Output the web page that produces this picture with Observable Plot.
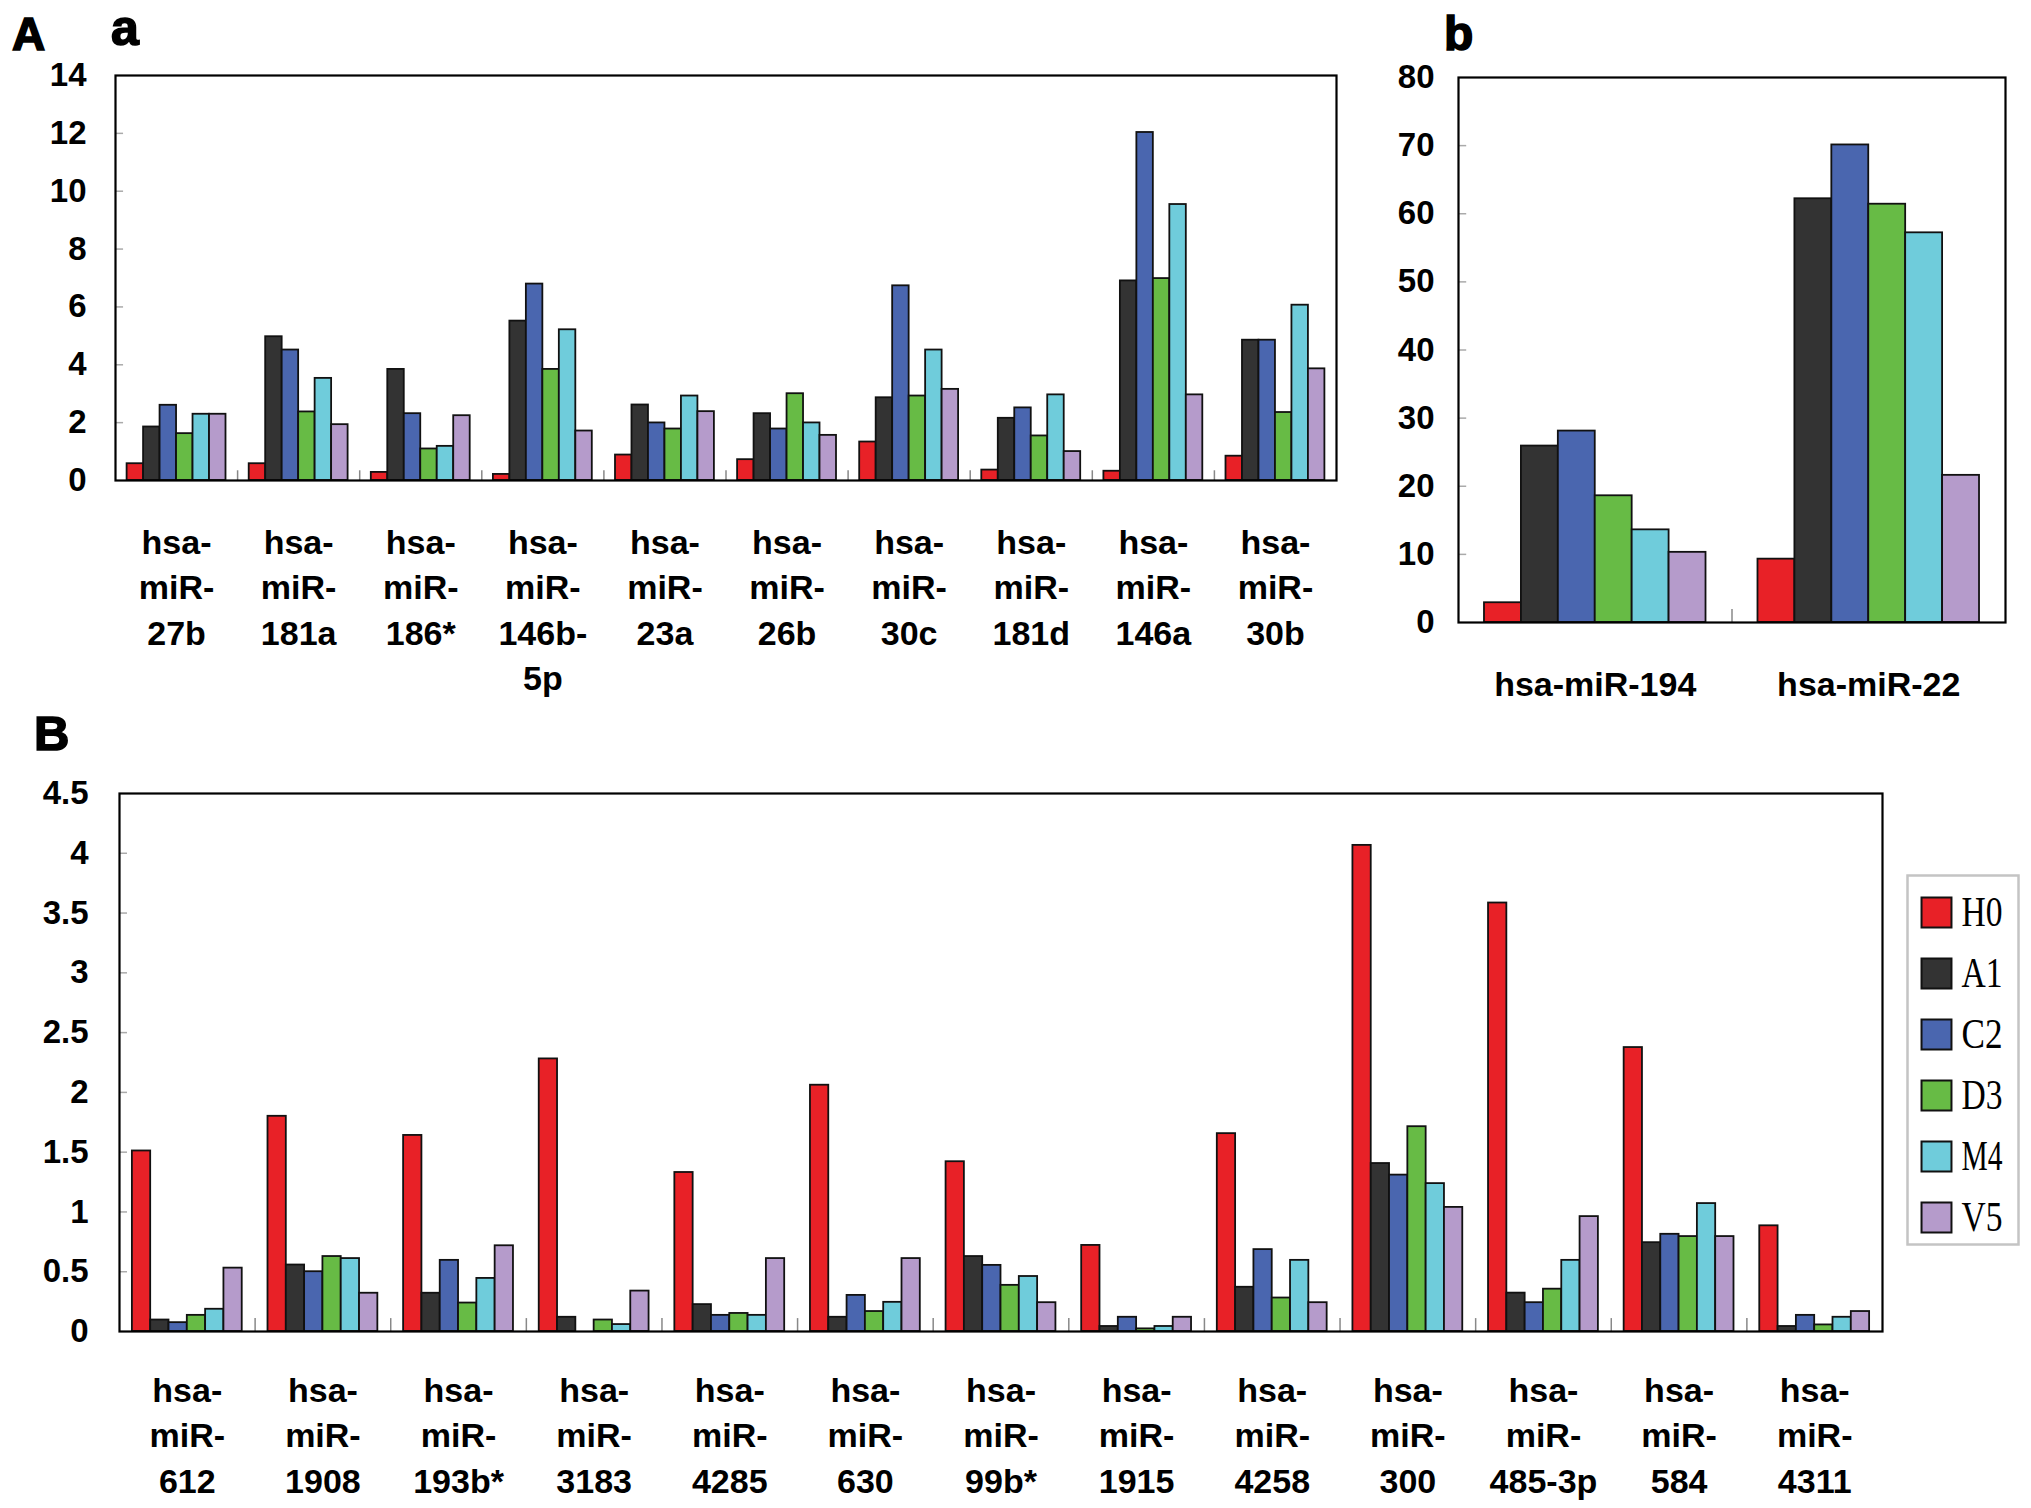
<!DOCTYPE html>
<html>
<head>
<meta charset="utf-8">
<script src="https://cdn.jsdelivr.net/npm/d3@7"></script>
<script src="https://cdn.jsdelivr.net/npm/@observablehq/plot@0.6"></script>
<style>
  body { margin: 0; background: #fff; }
  #root { position: relative; width: 2031px; height: 1508px; background: #fff; overflow: hidden; }
  .panel { position: absolute; }
  .panel svg { overflow: visible; }
  .letter { position: absolute; font-family: "Liberation Sans", Arial, sans-serif; font-weight: bold;
            color: #000; -webkit-text-stroke: 1.6px #000; line-height: 1; white-space: nowrap; }
</style>
</head>
<body>
<div id="root">
  <div class="letter" style="left:12px;top:11px;font-size:46px;">A</div>
  <div class="letter" style="left:111px;top:3px;font-size:50px;">a</div>
  <div class="letter" style="left:1444px;top:10px;font-size:48px;">b</div>
  <div class="letter" style="left:34px;top:709px;font-size:49px;">B</div>
  <div class="panel" id="pa" style="left:0;top:0;"></div>
  <div class="panel" id="pb" style="left:1360px;top:0;"></div>
  <div class="panel" id="pB" style="left:0;top:700px;"></div>
  <div class="panel" id="leg" style="left:1905px;top:873px;"></div>
</div>
<script>
// ---------- data ----------
const series = ["H0", "A1", "C2", "D3", "M4", "V5"];
const colors = ["#E82127", "#333333", "#4A66AF", "#67BB45", "#6FCCDB", "#B59BCB"];

// Panel A-a
const catsA = ["27b", "181a", "186*", "146b-5p", "23a", "26b", "30c", "181d", "146a", "30b"];
const labelsA = ["hsa-\nmiR-\n27b", "hsa-\nmiR-\n181a", "hsa-\nmiR-\n186*", "hsa-\nmiR-\n146b-\n5p",
  "hsa-\nmiR-\n23a", "hsa-\nmiR-\n26b", "hsa-\nmiR-\n30c", "hsa-\nmiR-\n181d", "hsa-\nmiR-\n146a", "hsa-\nmiR-\n30b"];
const A_H0 = [0.58, 0.58, 0.28, 0.21, 0.88, 0.72, 1.33, 0.36, 0.32, 0.84];
const A_A1 = [1.85, 4.97, 3.84, 5.51, 2.61, 2.31, 2.86, 2.15, 6.90, 4.85];
const A_C2 = [2.60, 4.51, 2.31, 6.79, 1.99, 1.78, 6.73, 2.51, 12.03, 4.85];
const A_D3 = [1.62, 2.37, 1.09, 3.84, 1.78, 3.00, 2.92, 1.54, 6.98, 2.35];
const A_M4 = [2.29, 3.53, 1.18, 5.21, 2.92, 1.99, 4.51, 2.96, 9.54, 6.06];
const A_V5 = [2.29, 1.93, 2.24, 1.71, 2.38, 1.56, 3.15, 1.00, 2.96, 3.86];
const ticksA = [0, 2, 4, 6, 8, 10, 12, 14];

// Panel A-b
const catsb = ["hsa-miR-194", "hsa-miR-22"];
const b_H0 = [2.9, 9.3];
const b_A1 = [25.9, 62.2];
const b_C2 = [28.1, 70.1];
const b_D3 = [18.6, 61.4];
const b_M4 = [13.6, 57.2];
const b_V5 = [10.3, 21.6];
const ticksb = [0, 10, 20, 30, 40, 50, 60, 70, 80];

// Panel B
const catsB = ["612", "1908", "193b*", "3183", "4285", "630", "99b*", "1915", "4258", "300", "485-3p", "584", "4311"];
const B_H0 = [1.51, 1.80, 1.64, 2.28, 1.33, 2.06, 1.42, 0.72, 1.655, 4.066, 3.584, 2.375, 0.884];
const B_A1 = [0.096, 0.556, 0.32, 0.119, 0.225, 0.119, 0.627, 0.042, 0.37, 1.405, 0.321, 0.743, 0.042];
const B_C2 = [0.074, 0.50, 0.595, 0, 0.135, 0.302, 0.553, 0.119, 0.685, 1.308, 0.241, 0.813, 0.135];
const B_D3 = [0.135, 0.627, 0.238, 0.096, 0.151, 0.167, 0.386, 0.022, 0.28, 1.713, 0.354, 0.794, 0.055];
const B_M4 = [0.186, 0.61, 0.444, 0.058, 0.135, 0.244, 0.46, 0.042, 0.595, 1.237, 0.595, 1.07, 0.119];
const B_V5 = [0.53, 0.32, 0.717, 0.338, 0.61, 0.61, 0.241, 0.119, 0.241, 1.038, 0.961, 0.794, 0.167];
const ticksB = [0, 0.5, 1, 1.5, 2, 2.5, 3, 3.5, 4, 4.5];

// ---------- chart builder ----------
const FONT = '"Liberation Sans", Arial, sans-serif';

function groupedBars({labels, values, ticks, width, height, margins, tickPadding, labelDy, tickLen}) {
  const n = labels.length;
  const yMax = ticks[ticks.length - 1];
  const bw = 0.135, off = (1 - series.length * bw) / 2;
  const rows = [];
  labels.forEach((lab, gi) => series.forEach((s, si) => rows.push({gi, si, s, v: values[si][gi]})));
  return Plot.plot({
    width, height, ...margins,
    x: {domain: [0, n], axis: null},
    y: {domain: [0, yMax], label: null},
    color: {domain: series, range: colors},
    style: {fontFamily: FONT, fontWeight: "bold", background: "transparent", color: "#000", overflow: "visible"},
    marks: [
      Plot.ruleY(ticks.slice(1, -1), {x1: 0, x2: tickLen, stroke: "#aaa", strokeWidth: 1.5}),
      Plot.ruleX(d3.range(1, n), {y1: 0, y2: yMax * 0.024, stroke: "#888", strokeWidth: 1.5}),
      Plot.rect(rows, {
        x1: d => d.gi + off + d.si * bw,
        x2: d => d.gi + off + (d.si + 1) * bw,
        y1: 0, y2: "v",
        fill: "s", stroke: "#111", strokeWidth: 1.8
      }),
      Plot.frame({stroke: "#000", strokeWidth: 2.2}),
      Plot.axisY({ticks, label: null, tickSize: 0, tickPadding, tickFormat: d3.format(""), fontSize: 33, fontWeight: "bold"}),
      Plot.text(labels, {
        x: (d, i) => i + 0.5, y: () => 0, text: d => d,
        lineAnchor: "top", dy: labelDy, fontSize: 34, fontWeight: "bold", lineHeight: 1.338, fill: "#000"
      })
    ]
  });
}

document.getElementById("pa").appendChild(groupedBars({
  labels: labelsA, values: [A_H0, A_A1, A_C2, A_D3, A_M4, A_V5], ticks: ticksA,
  width: 1346, height: 720,
  margins: {marginLeft: 115, marginRight: 10, marginTop: 75, marginBottom: 240},
  tickPadding: 29, labelDy: 41, tickLen: 0.066
}));

document.getElementById("pb").appendChild(groupedBars({
  labels: catsb, values: [b_H0, b_A1, b_C2, b_D3, b_M4, b_V5], ticks: ticksb,
  width: 655, height: 720,
  margins: {marginLeft: 98, marginRight: 10, marginTop: 77, marginBottom: 98},
  tickPadding: 24, labelDy: 41, tickLen: 0.03
}));

const labelsB = catsB.map(c => "hsa-\nmiR-\n" + c);
document.getElementById("pB").appendChild(groupedBars({
  labels: labelsB, values: [B_H0, B_A1, B_C2, B_D3, B_M4, B_V5], ticks: ticksB,
  width: 1892, height: 808,
  margins: {marginLeft: 119, marginRight: 10, marginTop: 93, marginBottom: 177},
  tickPadding: 31, labelDy: 38, tickLen: 0.059
}));

// ---------- legend ----------
const legend = Plot.plot({
  width: 115, height: 373, margin: 2,
  x: {domain: [0, 111], axis: null},
  y: {type: "point", domain: series, range: [37.5, 346], padding: 0, axis: null},
  color: {domain: series, range: colors},
  style: {background: "transparent", overflow: "visible"},
  marks: [
    Plot.frame({stroke: "#c4c4c4", strokeWidth: 2.5}),
    Plot.dot(series, {x: () => 29, y: d => d, symbol: "square", r: 16.9, fill: d => d, stroke: "#111", strokeWidth: 2}),
    Plot.text(series, {x: () => 54, y: d => d, text: d => d, textAnchor: "start", fontSize: 42,
      fontFamily: '"Liberation Serif", "DejaVu Serif", serif', fill: "#000"})
  ]
});
document.getElementById("leg").appendChild(legend);
d3.select(legend).selectAll("text").filter(function() { return this.textContent.length === 2; })
  .attr("textLength", 41).attr("lengthAdjust", "spacingAndGlyphs");
</script>
</body>
</html>
